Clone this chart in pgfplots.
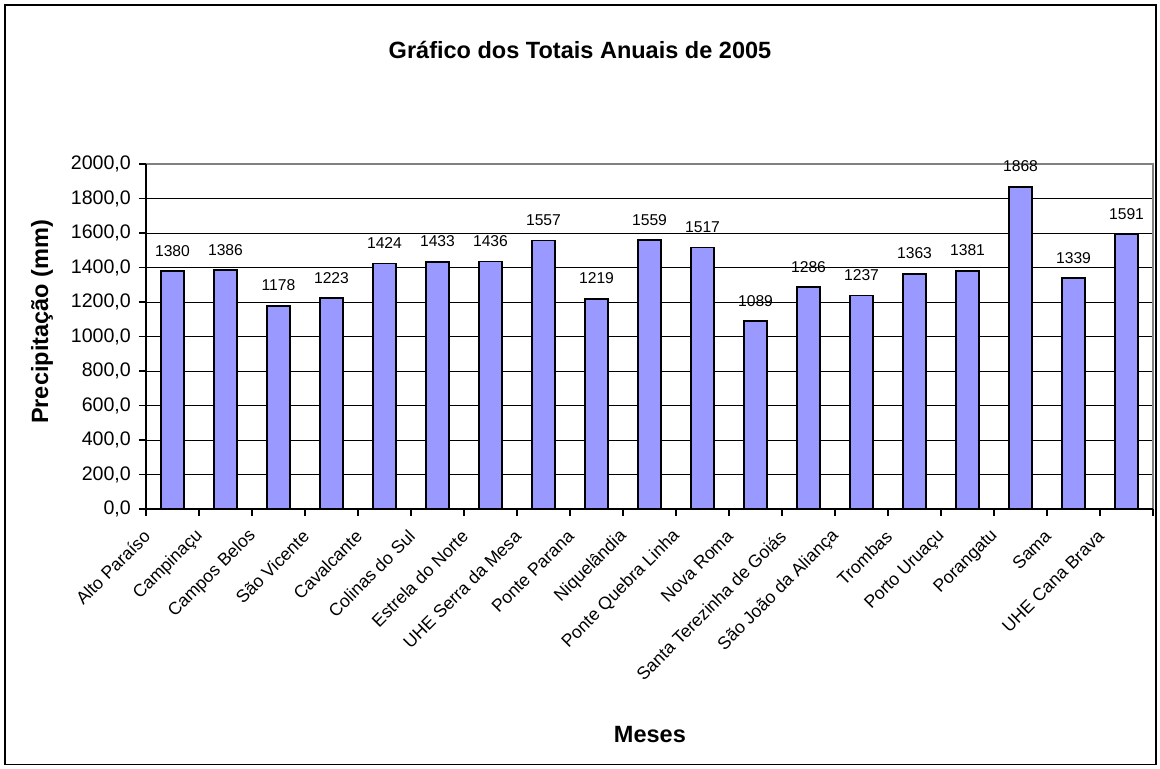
\documentclass[border=0pt]{standalone}
\usepackage{fontspec}
\setmainfont{Liberation Sans}
\usepackage{pgfplots}
\pgfplotsset{compat=1.18}
\definecolor{barfill}{HTML}{9999FF}
\definecolor{plotframe}{HTML}{808080}

\begin{document}
\begin{tikzpicture}
\path[use as bounding box] (0,0) rectangle (591.84pt,392.35pt);
\draw[line width=1pt] (2.6pt,2.3pt) rectangle (589.6pt,389.9pt);
\begin{axis}[
  at={(74.49pt,132.65pt)}, anchor=south west,
  scale only axis, width=513.78pt, height=176.02pt,
  xmin=-0.5, xmax=18.5, ymin=0, ymax=2000,
  clip=false,
  xtick={0,...,18},
  xticklabels={Alto Paraíso, Campinaçu, Campos Belos, São Vicente, Cavalcante,
    Colinas do Sul, Estrela do Norte, UHE Serra da Mesa, Ponte Parana,
    Niquelândia, Ponte Quebra Linha, Nova Roma, Santa Terezinha de Goiás,
    São João da Aliança, Trombas, Porto Uruaçu, Porangatu, Sama, UHE Cana Brava},
  minor xtick={-0.5,0.5,...,18.5},
  ytick={0,200,...,2000},
  ymajorgrids, grid style={black, line width=0.5pt},
  tick align=outside, xtick pos=bottom, ytick pos=left,
  major tick length=3.6pt, minor tick length=3.6pt,
  major x tick style={draw=none},
  tick style={black, line width=0.6pt},
  axis line style={draw=none},
  yticklabel style={font=\fontsize{10}{12}\selectfont, xshift=-0.6pt},
  xticklabel style={font=\fontsize{9}{11}\selectfont, rotate=45, anchor=east,
    xshift=-12pt, yshift=3pt},
  /pgf/number format/.cd, fixed, fixed zerofill, precision=1, use comma,
    1000 sep={}, assume math mode=true,
]
\addplot[ybar, bar width=11.73pt, fill=barfill, draw=black, line width=0.8pt,
  nodes near coords={\pgfmathprintnumber[fixed, precision=0, 1000 sep={}, assume math mode=true]{\pgfplotspointmeta}},
  every node near coord/.append style={font=\fontsize{8}{9.6}\selectfont,
    anchor=base, yshift=7.6pt, inner sep=0pt, black}]
  coordinates {(0,1380) (1,1386) (2,1178) (3,1223) (4,1424) (5,1433) (6,1436)
    (7,1557) (8,1219) (9,1559) (10,1517) (11,1089) (12,1286) (13,1237)
    (14,1363) (15,1381) (16,1868) (17,1339) (18,1591)};
\draw[plotframe, line width=0.8pt] (rel axis cs:0,1) -- (rel axis cs:1,1) -- (rel axis cs:1,0);
\draw[black, line width=0.8pt] (rel axis cs:0,1) -- (rel axis cs:0,0) -- (rel axis cs:1,0);
\end{axis}
\node[font=\bfseries\fontsize{12}{14}\selectfont] at (295.92pt,366.8pt) {Gráfico dos Totais Anuais de 2005};
\node[font=\bfseries\fontsize{12}{14}\selectfont, rotate=90] at (21.4pt,228.1pt) {Precipitação (mm)};
\node[font=\bfseries\fontsize{12}{14}\selectfont] at (331.6pt,17.35pt) {Meses};
\end{tikzpicture}
\end{document}
